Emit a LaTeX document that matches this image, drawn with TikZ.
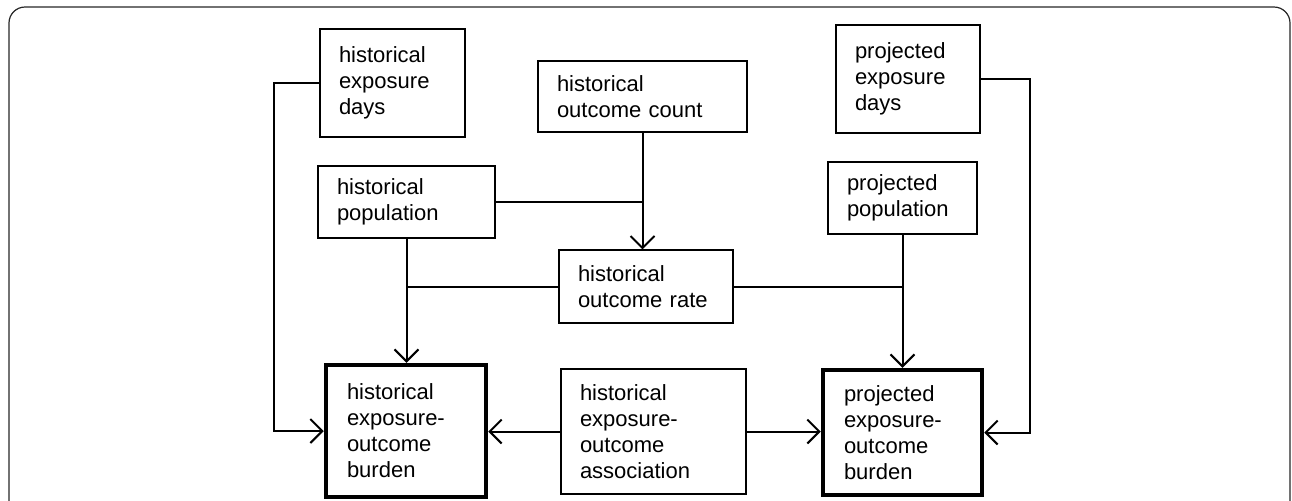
\documentclass[tikz,border=0pt]{standalone}
\usepackage{fontspec}
\setmainfont{Liberation Sans}
\usetikzlibrary{arrows.meta}

\tikzset{
  box/.style={draw, line width=0.6pt, align=left, inner xsep=9.5pt, inner ysep=0pt,
    font=\fontsize{11}{13}\selectfont},
  bigbox/.style={box, line width=2.25pt, inner xsep=10.5pt},
  line/.style={line width=1pt},
  link/.style={line, -{Straight Barb[length=6pt,width=12pt,line width=1pt]}}
}

\begin{document}
\begin{tikzpicture}[x=0.5pt, y=-0.5pt]
        \clip (0,0) rectangle (1292,500);
        \draw [line width=0.6pt, black!85, rounded corners=8] (9,520) -- (9,7) -- (1290,7) -- (1290,520);

        % inputs
        \node [box, text width=53.5pt, minimum height=54pt] (hexp) at (392.5,83) {historical\\exposure\\days};
        \node [box, text width=85.5pt, minimum height=35.5pt] (hcount) at (642.5,96.5) {historical\\outcome count};
        \node [box, text width=69.5pt, minimum height=36pt] (hpop) at (406.5,202) {historical\\population};
        \node [box, text width=53pt, minimum height=54pt] (pexp) at (908,79) {projected\\exposure\\days};
        \node [box, text width=55.5pt, minimum height=36pt] (ppop) at (902.5,198) {projected\\population};
        \node [box, text width=68pt, minimum height=36.5pt] (hrate) at (646,286.5) {historical\\outcome rate};
        \node [box, text width=73.5pt, minimum height=62.5pt] (assoc) at (653.5,431.5) {historical\\exposure-\\outcome\\association};

        % burdens
        \node [bigbox, text width=59pt, minimum height=66pt] (hburden) at (406,431) {historical\\exposure-\\outcome\\burden};
        \node [bigbox, text width=58.5pt, minimum height=62.5pt] (pburden) at (902.5,432.5) {projected\\exposure-\\outcome\\burden};

        \draw [link] (hexp.west) -- ++(-45,0) |- (hburden.west);
        \draw [link] (hcount.south) -- (hcount.south |- hrate.north);
        \draw [line] (hpop.east) -- (hpop.east -| hcount.south);
        \draw [link] (hpop.south) -- (hpop.south |- hburden.north);
        \draw [line] (hrate.west) -- (hrate.west -| hpop.south);
        \draw [line] (hrate.east) -- (hrate.east -| ppop.south);
        \draw [link] (ppop.south) -- (ppop.south |- pburden.north);
        \draw [link] (pexp.east) -- ++(49,0) |- (pburden.east);
        \draw [link] (assoc.west) -- (assoc.west -| hburden.east);
        \draw [link] (assoc.east) -- (assoc.east -| pburden.west);
      \end{tikzpicture}
\end{document}
